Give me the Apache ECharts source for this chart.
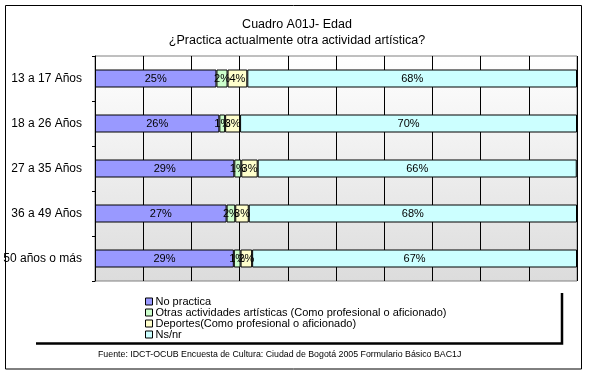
<!DOCTYPE html>
<html>
<head>
  <meta charset="utf-8">
  <title>Cuadro A01J</title>
  <script src="https://cdn.jsdelivr.net/npm/echarts@6/dist/echarts.min.js"></script>
  <style>
    body { margin: 0; padding: 0; background: #fff; }
    #main { width: 589px; height: 375px; }
  </style>
</head>
<body>
<div id="main"></div>
<script>
// grupos de edad
const categories = ['13 a 17 Años', '18 a 26 Años', '27 a 35 Años', '36 a 49 Años', '50 años o más'];
// porcentajes (las etiquetas se redondean)
const noPractica = [25.2, 25.8, 28.9, 27.3, 28.8];
const otrasArtisticas = [2.3, 1.2, 1.45, 1.8, 1.4];
const deportes = [4.1, 3.1, 3.4, 2.8, 2.4];
const nsnr = [68.4, 69.9, 66.2, 68.1, 67.4];
const seriesNames = [
  'No practica',
  'Otras actividades artísticas (Como profesional o aficionado)',
  'Deportes(Como profesional o aficionado)',
  'Ns/nr'
];
const colors = ['#9999FF', '#CCFFCC', '#FFFFCC', '#CCFFFF'];
const FONT = 'Liberation Sans, Arial, sans-serif';

const makeSerie = (name, data, color) => ({
  name: name,
  type: 'bar',
  stack: 'total',
  data: data,
  barWidth: 18,
  itemStyle: { color: color, borderColor: '#000', borderWidth: 1 },
  label: {
    show: true,
    position: 'inside',
    color: '#000',
    fontFamily: FONT,
    fontSize: 11,
    formatter: (p) => Math.round(p.value) + '%'
  }
});

const chart = echarts.init(document.getElementById('main'));
chart.setOption({
  animation: false,
  textStyle: { fontFamily: FONT },
  title: {
    text: 'Cuadro A01J- Edad\n¿Practica actualmente otra actividad artística?',
    left: 292,
    top: 12,
    textAlign: 'center',
    textStyle: { fontFamily: FONT, fontSize: 12.5, lineHeight: 16, fontWeight: 'normal', color: '#000', align: 'center' }
  },
  graphic: [
    { type: 'rect', shape: { x: 5.5, y: 5.5, width: 576, height: 363.5 },
      style: { fill: null, stroke: '#000', lineWidth: 1 }, z: -1 },
    { type: 'polyline', shape: { points: [[36, 343.5], [562, 343.5], [562, 293]] },
      style: { fill: null, stroke: '#000', lineWidth: 2.5 } },
    { type: 'text', left: 98, top: 350,
      style: { text: 'Fuente: IDCT-OCUB Encuesta de Cultura: Ciudad de Bogotá 2005 Formulario Básico BAC1J',
        fontFamily: FONT, fontSize: 8.8, fill: '#000' } }
  ],
  legend: {
    orient: 'vertical',
    left: 140,
    top: 291,
    icon: 'rect',
    itemWidth: 7,
    itemHeight: 7,
    itemGap: 0,
    data: seriesNames,
    itemStyle: { borderColor: '#000', borderWidth: 1 },
    textStyle: { fontSize: 11, lineHeight: 9, color: '#000', fontFamily: FONT, padding: [0, 0, 0, -2] }
  },
  grid: {
    left: 95, right: 12, top: 56, bottom: 94,
    show: true,
    borderColor: '#808080',
    borderWidth: 1,
    backgroundColor: new echarts.graphic.LinearGradient(0, 0, 0, 1, [
      { offset: 0, color: '#ffffff' },
      { offset: 1, color: '#dcdcdc' }
    ])
  },
  xAxis: {
    type: 'value',
    min: 0,
    max: 100,
    interval: 10,
    axisLabel: { show: false },
    axisLine: { show: false },
    axisTick: { show: false },
    splitLine: { show: true, lineStyle: { color: '#000', width: 1 } }
  },
  yAxis: {
    type: 'category',
    inverse: true,
    data: categories,
    axisLine: { show: true, lineStyle: { color: '#000' } },
    axisTick: { show: true, length: 3, lineStyle: { color: '#000' } },
    axisLabel: { color: '#000', fontSize: 12, margin: 13, fontFamily: FONT }
  },
  series: [
    makeSerie(seriesNames[0], noPractica, colors[0]),
    makeSerie(seriesNames[1], otrasArtisticas, colors[1]),
    makeSerie(seriesNames[2], deportes, colors[2]),
    makeSerie(seriesNames[3], nsnr, colors[3])
  ]
});
</script>
</body>
</html>
